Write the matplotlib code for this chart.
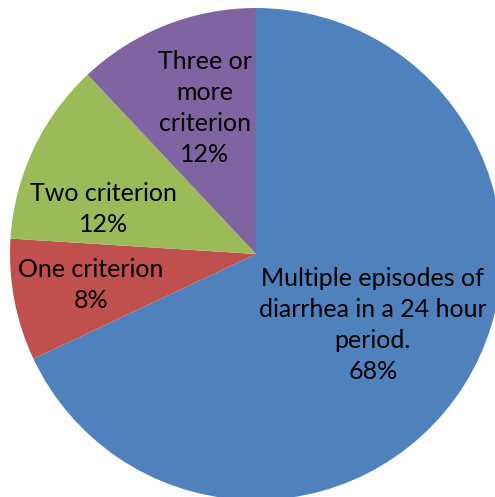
import numpy as np
import matplotlib.pyplot as plt

labels = ["Multiple episodes of\ndiarrhea in a 24 hour\nperiod.", "One criterion", "Two criterion", "Three or\nmore\ncriterion"]
values = [68, 8, 12, 12]
colors = ["#4F81BD", "#C0504D", "#9BBB59", "#8064A2"]
# label placement: fraction of radius and angular nudge from wedge middle (deg)
label_r = [0.556, 0.683, 0.645, 0.63]
label_dt = [1.1, 0.0, 8.7, -2.3]

fig = plt.figure(figsize=(4.95, 4.97), dpi=100)
ax = fig.add_axes([0, 0, 1, 1])
cx, cy, R = 256, 497 - 254, 246
wedges, _ = ax.pie(values, colors=colors, startangle=90, counterclock=False,
                   center=(cx, cy), radius=R, wedgeprops=dict(linewidth=0))

for w, lab, v, fr, dt in zip(wedges, labels, values, label_r, label_dt):
    mid = np.deg2rad((w.theta1 + w.theta2) / 2 + dt)
    x = cx + fr * R * np.cos(mid)
    y = cy + fr * R * np.sin(mid)
    ax.text(x, y, f"{lab}\n{v}%", ha="center", va="center", fontsize=18,
            family="Lato", linespacing=1.42, color="black")

ax.set_xlim(0, 495)
ax.set_ylim(0, 497)
ax.set_aspect("equal")
ax.axis("off")
fig.savefig("out.png", dpi=100)
